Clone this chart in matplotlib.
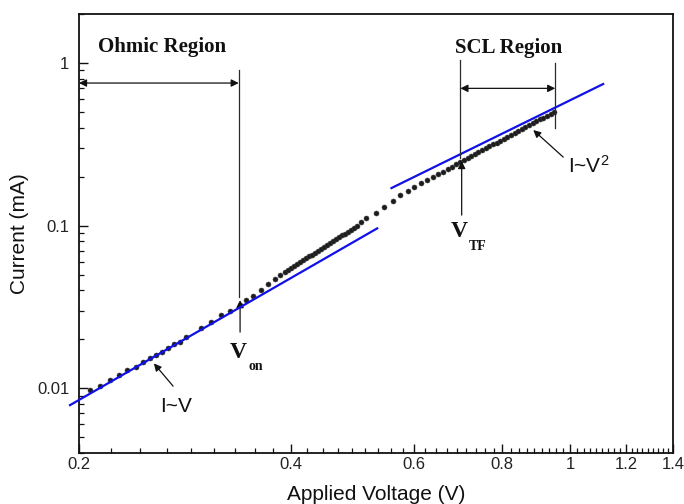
import matplotlib
matplotlib.use("Agg")
import numpy as np
import matplotlib.pyplot as plt
from matplotlib.ticker import FixedLocator, FixedFormatter, LogLocator, NullFormatter

# Measured I-V data (V in volts, I in mA)
voltage = [
    0.2073, 0.2142, 0.2213, 0.2281, 0.2342, 0.2410, 0.2468, 0.2523, 0.2573,
    0.2626, 0.2678, 0.2729, 0.2783, 0.2844, 0.2981, 0.3080, 0.3182, 0.3277,
    0.3386, 0.3461, 0.3537, 0.3627, 0.3714, 0.3797, 0.3859,
    0.3925, 0.3964, 0.4003, 0.4042, 0.4082, 0.4122, 0.4163, 0.4204, 0.4246,
    0.4287, 0.4330, 0.4372, 0.4416, 0.4459, 0.4503, 0.4548, 0.4593, 0.4638,
    0.4684, 0.4730, 0.4776, 0.4823, 0.4871, 0.4919, 0.4968,
    0.5041, 0.5124, 0.5295, 0.5440, 0.5590, 0.5733, 0.5871, 0.6001, 0.6134,
    0.6255, 0.6371, 0.6476, 0.6583, 0.6692, 0.6789, 0.6879,
    0.6977, 0.7060, 0.7144, 0.7229, 0.7315, 0.7402, 0.7490, 0.7579, 0.7669,
    0.7760, 0.7853, 0.7946, 0.8041, 0.8136, 0.8233, 0.8331, 0.8430, 0.8530,
    0.8632, 0.8734, 0.8838, 0.8943, 0.9050, 0.9157, 0.9266, 0.9376, 0.9488,
]
current = [
    0.00974, 0.01031, 0.01123, 0.01205, 0.01293, 0.01355, 0.01454, 0.01526, 0.01599,
    0.01675, 0.01758, 0.01869, 0.01930, 0.02072, 0.02334, 0.02563, 0.02818, 0.02994,
    0.03246, 0.03484, 0.03687, 0.04016, 0.04352, 0.04671, 0.04963,
    0.05202, 0.05345, 0.05491, 0.05642, 0.05797, 0.05956, 0.06119, 0.06287, 0.06459,
    0.06636, 0.06818, 0.07005, 0.07198, 0.07395, 0.07598, 0.07806, 0.08020, 0.08240,
    0.08466, 0.08698, 0.08937, 0.09182, 0.09434, 0.09692, 0.09958,
    0.1047, 0.1108, 0.1200, 0.1306, 0.1422, 0.1541, 0.1638, 0.1733, 0.1819,
    0.1906, 0.1980, 0.2066, 0.2143, 0.2217, 0.2301, 0.2390,
    0.2470, 0.2538, 0.2608, 0.2680, 0.2754, 0.2830, 0.2908, 0.2989, 0.3071,
    0.3156, 0.3243, 0.3332, 0.3424, 0.3519, 0.3616, 0.3715, 0.3818, 0.3923,
    0.4032, 0.4143, 0.4257, 0.4375, 0.4495, 0.4619, 0.4747, 0.4878, 0.5012,
]

# Fitted straight lines (endpoints)
fit_ohmic_v = [0.1942, 0.5312]
fit_ohmic_i = [0.007875, 0.09617]
fit_scl_v = [0.5567, 1.1137]
fit_scl_i = [0.1702, 0.7423]

# Characteristic voltages
v_on = 0.3375
v_tf = 0.6977
v_scl_end = 0.9519

x_ticks = [0.2, 0.4, 0.6, 0.8, 1.0, 1.2, 1.4]
x_tick_labels = ["0.2", "0.4", "0.6", "0.8", "1", "1.2", "1.4"]
y_ticks = [0.01, 0.1, 1]
y_tick_labels = ["0.01", "0.1", "1"]

plt.rcParams["font.family"] = ["Liberation Sans", "DejaVu Sans"]
plt.rcParams["mathtext.fontset"] = "custom"
plt.rcParams["mathtext.rm"] = "Liberation Sans"
plt.rcParams["mathtext.it"] = "Liberation Sans"

fig = plt.figure(figsize=(6.84, 5.04), dpi=100)
ax = fig.add_axes([0.1155, 0.1012, 0.8684, 0.8710])
ax.set_xscale("log")
ax.set_yscale("log")
ax.set_xlim(0.2, 1.4)
ax.set_ylim(0.004, 2)

# data and fits
ax.plot(voltage, current, "o", ms=3.6, color="#1c1c1c", mec="#3a3a3a", mew=0.4, zorder=3)
ax.plot(fit_ohmic_v, fit_ohmic_i, color="#1010e8", lw=1.6, clip_on=False, zorder=4)
ax.plot(fit_scl_v, fit_scl_i, color="#1010e8", lw=1.6, zorder=4)

# ticks
ax.xaxis.set_major_locator(FixedLocator(x_ticks))
ax.xaxis.set_major_formatter(FixedFormatter(x_tick_labels))
minor_x = [a + k * 0.2 / 9 for a in x_ticks[:-1] for k in range(1, 9)]
ax.xaxis.set_minor_locator(FixedLocator(minor_x))
ax.xaxis.set_minor_formatter(NullFormatter())
ax.yaxis.set_major_locator(FixedLocator(y_ticks))
ax.yaxis.set_major_formatter(FixedFormatter(y_tick_labels))
ax.yaxis.set_minor_locator(LogLocator(base=10, subs=np.arange(2, 10)))
ax.yaxis.set_minor_formatter(NullFormatter())
ax.tick_params(which="both", direction="in", top=False, right=False, colors="#111111")
ax.tick_params(which="major", length=6.5, width=1.0, labelsize=12, labelcolor="#222222")
ax.tick_params(axis="x", which="major", pad=3)
ax.tick_params(axis="y", which="major", pad=7)
ax.tick_params(which="minor", length=3.6, width=0.9)
for s in ax.spines.values():
    s.set_linewidth(1.3)
    s.set_color("#111111")

ax.set_xlabel("Applied Voltage (V)", fontsize=15, labelpad=9, color="#111111")
ax.set_ylabel("Current (mA)", fontsize=15, labelpad=6, color="#111111")

lc = "#2a2a2a"
serif = dict(family=["Liberation Serif", "DejaVu Serif"], weight="bold", color="#111111")

# Ohmic region markers
ax.plot([v_on, v_on], [0.905, 0.0363], color=lc, lw=0.9, zorder=5)
ax.annotate("", xy=(0.2, 0.7527), xytext=(v_on, 0.7527),
            arrowprops=dict(arrowstyle="<|-|>", color="#111111", lw=0.9,
                            mutation_scale=11, shrinkA=0, shrinkB=0))
ax.text(0.2128, 1.2535, "Ohmic Region", fontsize=15, ha="left", va="center", **serif)
ax.annotate("", xy=(0.339, 0.0348), xytext=(0.339, 0.02215),
            arrowprops=dict(arrowstyle="-|>", color="#111111", lw=0.9,
                            mutation_scale=11, shrinkA=0, shrinkB=0))
ax.text(0.3375, 0.01657, "V", fontsize=17, ha="center", va="center", **serif)
ax.text(0.3568, 0.01369, "on", fontsize=10, ha="center", va="center", **serif)

# SCL region markers
ax.plot([v_tf, v_tf], [1.0426, 0.262], color=lc, lw=0.9, zorder=5)
ax.plot([v_scl_end, v_scl_end], [1.0036, 0.3963], color=lc, lw=0.9, zorder=5)
ax.annotate("", xy=(v_tf, 0.6981), xytext=(v_scl_end, 0.6981),
            arrowprops=dict(arrowstyle="<|-|>", color="#111111", lw=0.9,
                            mutation_scale=11, shrinkA=0, shrinkB=0))
ax.text(0.8162, 1.24, "SCL Region", fontsize=15, ha="center", va="center", **serif)
ax.annotate("", xy=(0.7006, 0.2494), xytext=(0.7006, 0.1161),
            arrowprops=dict(arrowstyle="-|>", color="#111111", lw=0.9,
                            mutation_scale=11, shrinkA=0, shrinkB=0))
ax.text(0.6953, 0.0919, "V", fontsize=17, ha="center", va="center", **serif)
ax.text(0.7375, 0.07487, "TF", fontsize=10, ha="center", va="center", **serif)

# slope labels
ax.annotate("", xy=(0.2556, 0.01422), xytext=(0.2722, 0.01031),
            arrowprops=dict(arrowstyle="-|>", color="#111111", lw=0.9,
                            mutation_scale=11, shrinkA=0, shrinkB=0))
ax.text(0.2751, 0.007768, "I~V", fontsize=15, ha="center", va="center", color="#111111")
ax.annotate("", xy=(0.8858, 0.3869), xytext=(0.9771, 0.2639),
            arrowprops=dict(arrowstyle="-|>", color="#111111", lw=0.9,
                            mutation_scale=11, shrinkA=0, shrinkB=0))
ax.text(0.993, 0.232, "I~V$^{2}$", fontsize=15, ha="left", va="center", color="#111111")

fig.savefig("out.png", dpi=100)
